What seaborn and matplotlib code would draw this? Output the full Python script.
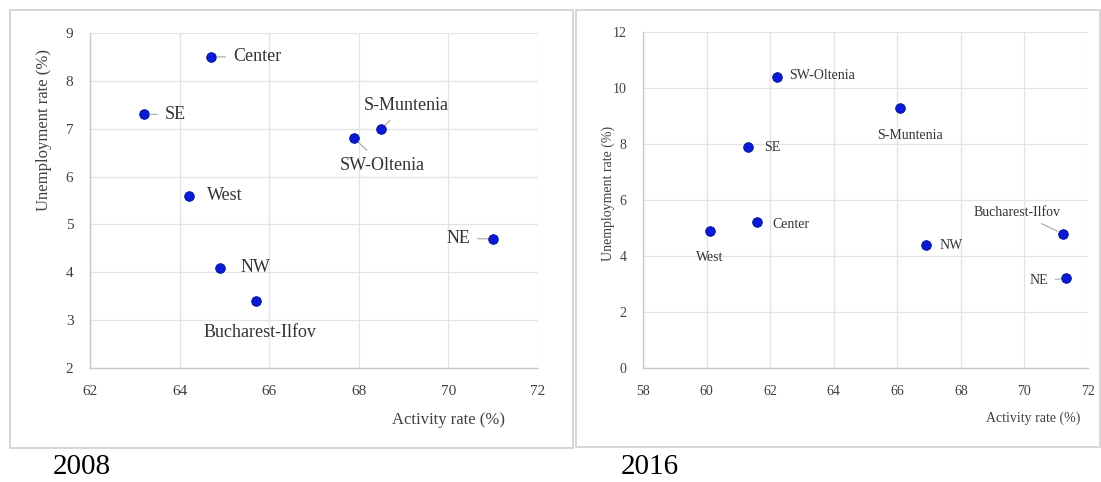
import matplotlib
matplotlib.use("Agg")
import matplotlib.pyplot as plt
import seaborn as sns
import pandas as pd
from matplotlib.patches import Rectangle

# Regional activity vs. unemployment rates, Romania
regions_2008 = ["Center", "SE", "West", "NW", "Bucharest-Ilfov", "S-Muntenia", "SW-Oltenia", "NE"]
activity_2008 = [64.7, 63.2, 64.2, 64.9, 65.7, 68.5, 67.9, 71.0]
unemployment_2008 = [8.5, 7.3, 5.6, 4.1, 3.4, 7.0, 6.8, 4.7]

regions_2016 = ["SW-Oltenia", "SE", "Center", "West", "S-Muntenia", "Bucharest-Ilfov", "NW", "NE"]
activity_2016 = [62.2, 61.3, 61.6, 60.1, 66.1, 71.2, 66.9, 71.3]
unemployment_2016 = [10.4, 7.9, 5.2, 4.9, 9.3, 4.8, 4.4, 3.2]

x_ticks_2008 = [62, 64, 66, 68, 70, 72]
y_ticks_2008 = [2, 3, 4, 5, 6, 7, 8, 9]
x_ticks_2016 = [58, 60, 62, 64, 66, 68, 70, 72]
y_ticks_2016 = [0, 2, 4, 6, 8, 10, 12]

# label placement: (text x, text y, horizontal alignment, leader line)
label_pos_2008 = {
    "Center": (65.19, 8.5, "left", True),
    "SE": (63.67, 7.3, "left", True),
    "West": (64.61, 5.6, "left", False),
    "NW": (65.35, 4.1, "left", False),
    "Bucharest-Ilfov": (65.8, 2.75, "center", False),
    "S-Muntenia": (69.05, 7.48, "center", True),
    "SW-Oltenia": (68.52, 6.24, "center", True),
    "NE": (70.48, 4.7, "right", True),
}
label_pos_2016 = {
    "SW-Oltenia": (62.6, 10.43, "left", False),
    "SE": (61.8, 7.86, "left", False),
    "Center": (62.06, 5.14, "left", False),
    "West": (60.1, 3.96, "center", False),
    "S-Muntenia": (66.4, 8.32, "center", False),
    "Bucharest-Ilfov": (69.76, 5.57, "center", True),
    "NW": (67.34, 4.36, "left", False),
    "NE": (70.74, 3.11, "right", True),
}

sns.set_theme(style="white")
plt.rcParams["font.family"] = ["Liberation Serif", "DejaVu Serif"]

fig = plt.figure(figsize=(11.01, 4.82), dpi=100)
W, H = 1101, 482

# panel frames
for (x0, y0, x1, y1) in [(10, 10, 573, 448), (576, 10, 1100, 447)]:
    fig.patches.append(Rectangle((x0 / W, 1 - y1 / H), (x1 - x0) / W, (y1 - y0) / H,
                                 transform=fig.transFigure, fill=False,
                                 edgecolor="#cfcfcf", linewidth=1.2))

ax1 = fig.add_axes([90 / W, 1 - 368 / H, 448 / W, 335 / H])
ax2 = fig.add_axes([643 / W, 1 - 368 / H, 445 / W, 336 / H])


def draw_panel(ax, regions, act, unemp, xticks, yticks, labels, fs_tick, fs_lab, fs_pt,
               xlab_pos, ylab_pos):
    df = pd.DataFrame({"region": regions, "activity": act, "unemployment": unemp})
    sns.scatterplot(data=df, x="activity", y="unemployment", ax=ax, s=48,
                    color="#0a1ad6", edgecolor="#00108a", linewidth=0.6, zorder=3)
    ax.set_xlim(xticks[0], xticks[-1])
    ax.set_ylim(yticks[0], yticks[-1])
    ax.set_xticks(xticks)
    ax.set_yticks(yticks)
    ax.grid(True, color="#e3e3e3", linewidth=0.9)
    ax.set_axisbelow(True)
    for side in ["top", "right"]:
        ax.spines[side].set_visible(False)
    for side in ["left", "bottom"]:
        ax.spines[side].set_color("#c9c9c9")
        ax.spines[side].set_linewidth(1.0)
    ax.tick_params(axis="both", length=0, labelsize=fs_tick, labelcolor="#404040")
    ax.tick_params(axis="x", pad=12)
    ax.tick_params(axis="y", pad=12)
    ax.set_xlabel("Activity rate (%)", fontsize=fs_lab, color="#404040")
    ax.set_ylabel("Unemployment rate (%)", fontsize=fs_lab, color="#404040")
    ax.xaxis.set_label_coords(*xlab_pos)
    ax.yaxis.set_label_coords(*ylab_pos)
    for r, x, y in zip(regions, act, unemp):
        tx, ty, ha, leader = labels[r]
        ax.annotate(r, xy=(x, y), xytext=(tx, ty), ha=ha, va="center",
                    fontsize=fs_pt, color="#333333",
                    arrowprops=dict(arrowstyle="-", color="#a6a6a6", lw=0.8,
                                    shrinkA=3, shrinkB=4) if leader else None)


draw_panel(ax1, regions_2008, activity_2008, unemployment_2008, x_ticks_2008, y_ticks_2008,
           label_pos_2008, 11, 12, 13, (0.80, -0.13), (-0.084, 0.71))
draw_panel(ax2, regions_2016, activity_2016, unemployment_2016, x_ticks_2016, y_ticks_2016,
           label_pos_2016, 10, 10, 10, (0.876, -0.13), (-0.064, 0.52))

fig.text(82 / W, 1 - 467 / H, "2008", fontsize=21, ha="center", va="center", color="black")
fig.text(650 / W, 1 - 467 / H, "2016", fontsize=21, ha="center", va="center", color="black")

fig.savefig("out.png", dpi=100, facecolor="white")
